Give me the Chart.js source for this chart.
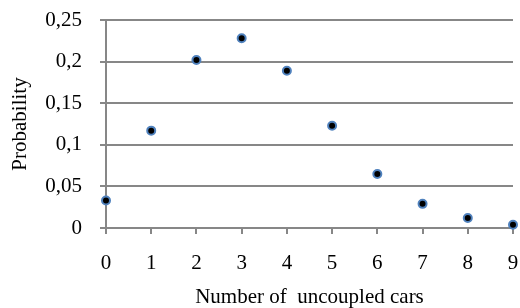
<!DOCTYPE html>
<html>
<head>
<meta charset="utf-8">
<script src="https://cdn.jsdelivr.net/npm/chart.js@4.4.1/dist/chart.umd.min.js"></script>
<style>
  body { margin: 0; background: #fff; }
</style>
</head>
<body>
<canvas id="probChart" width="520" height="308"></canvas>
<script>
const cars = [0, 1, 2, 3, 4, 5, 6, 7, 8, 9];
const probability = [0.033, 0.117, 0.202, 0.228, 0.189, 0.123, 0.065, 0.029, 0.012, 0.004];
const yTicks = [0, 0.05, 0.1, 0.15, 0.2, 0.25];

const axisGray = "#878787";
Chart.defaults.font.family = "'Liberation Serif', 'Times New Roman', serif";
Chart.defaults.font.size = 21;
Chart.defaults.color = "#000";

const ctx = document.getElementById("probChart");
new Chart(ctx.getContext("2d"), {
  type: "scatter",
  data: {
    datasets: [
      {
        data: cars.map((c, i) => ({ x: c, y: probability[i] })),
        backgroundColor: "#000",
        borderColor: "#4f81bd",
        borderWidth: 2,
        pointRadius: 4,
        clip: false,
      },
    ],
  },
  options: {
    responsive: false,
    animation: false,
    events: [],
    layout: { padding: { top: 20, right: 7, left: 0, bottom: 0 } },
    plugins: { legend: { display: false }, tooltip: { enabled: false } },
    scales: {
      x: {
        min: 0,
        max: 9,
        afterFit: (s) => {
          s.height = 80;
          s.paddingLeft = 0;
          s.paddingRight = 0;
        },
        ticks: { stepSize: 1, padding: 17 },
        grid: { drawOnChartArea: false, color: axisGray, tickLength: 6, lineWidth: 2 },
        border: { color: axisGray, width: 2 },
        title: { display: true, text: "Number of  uncoupled cars", padding: { top: 0, bottom: -2 } },
      },
      y: {
        min: 0,
        max: 0.25,
        afterFit: (s) => {
          s.width = 106;
          s.paddingTop = 0;
          s.paddingBottom = 0;
        },
        afterBuildTicks: (s) => { s.ticks = yTicks.map((v) => ({ value: v })); },
        ticks: {
          padding: 18,
          callback: (v) => String(Math.round(v * 100) / 100).replace(".", ","),
        },
        grid: { color: axisGray, tickLength: 6, lineWidth: 2 },
        border: { color: axisGray, width: 2 },
        title: { display: true, text: "Probability", padding: { top: 8, bottom: 0 } },
      },
    },
  },
});
</script>
</body>
</html>
